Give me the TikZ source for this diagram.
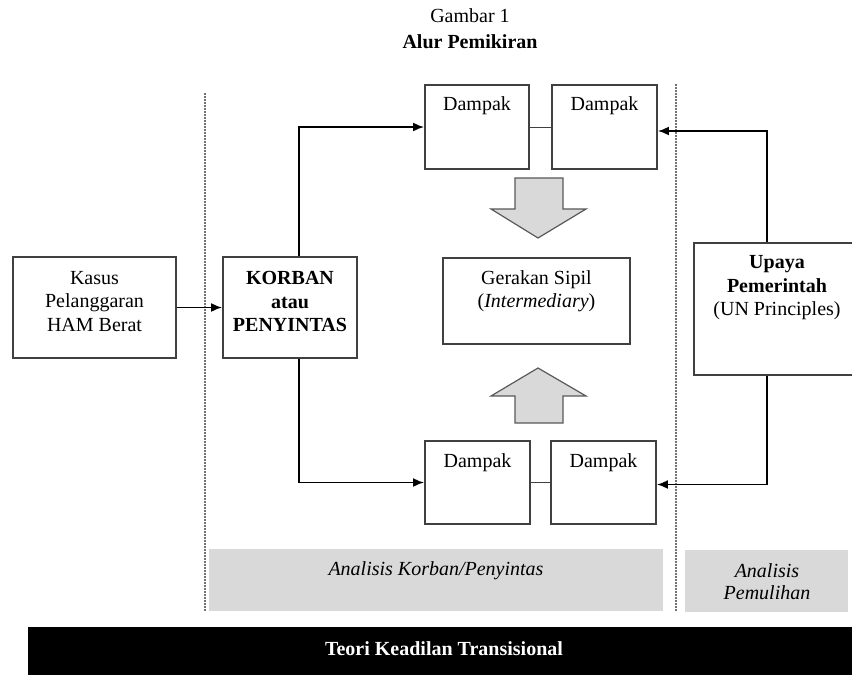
\documentclass[tikz,border=0pt]{standalone}
\usepackage{fontspec}
\setmainfont{Liberation Serif}
\usetikzlibrary{arrows.meta}
\begin{document}
\begin{tikzpicture}[x=1pt,y=-1pt,
  box/.style={draw=black!75,line width=1.8pt,fill=white,inner sep=0pt},
  txt/.style={align=center,font=\fontsize{20}{23.5}\selectfont,inner sep=0pt},
  conn/.style={draw=black,line width=1.9pt,-{Latex[length=11pt,width=9pt]}},
  link/.style={draw=black!75,line width=1pt},
  sep/.style={draw=black!55,line width=1.1pt,dash pattern=on 1.6pt off 1.4pt},
  band/.style={fill=black!15,draw=none,inner sep=0pt},
  blockarrow/.style={fill=black!15,draw=black!65,line width=1.2pt}]
\useasboundingbox (0,0) rectangle (852,675);
\clip (0,0) rectangle (852,675);
\fill[white] (0,0) rectangle (852,675);

% title
\node[txt] (t1) at (470,16) {Gambar 1};
\node[txt,font=\fontsize{20}{23.5}\selectfont\bfseries] (t2) at (470,42) {Alur Pemikiran};

% separators
\coordinate (s1a) at (205,93);
\coordinate (s1b) at (205,611);
\coordinate (s2a) at (676,84);
\coordinate (s2b) at (676,611);
\draw[sep] (s1a) -- (s1b);
\draw[sep] (s2a) -- (s2b);

% bands
\node[band,minimum width=454pt,minimum height=62pt] (b1) at (436,580) {};
\node[band,minimum width=163pt,minimum height=62pt] (b2) at (766.5,581) {};
\node[txt,font=\fontsize{20}{23.5}\selectfont\itshape] (b1t) at (436,571) {Analisis Korban/Penyintas};
\node[txt,font=\fontsize{20}{22}\selectfont\itshape] (b2t) at (767,582) {Analisis\\Pemulihan};

% black bar
\node[fill=black,minimum width=840pt,minimum height=60pt,inner sep=0pt] (bar) at (448,657) {};
\node[txt,text=white,font=\fontsize{20}{23.5}\selectfont\bfseries] (bart) at (444,649) {Teori Keadilan Transisional};

% boxes
\node[box,minimum width=163pt,minimum height=101pt] (kasus) at (94.5,307.5) {};
\node[box,minimum width=134pt,minimum height=101pt] (korban) at (290,307.5) {};
\node[box,minimum width=104pt,minimum height=84pt] (d1) at (477,127) {};
\node[box,minimum width=105pt,minimum height=84pt] (d2) at (604.5,127) {};
\node[box,minimum width=187pt,minimum height=86pt] (ger) at (536.5,301) {};
\node[box,minimum width=105pt,minimum height=83pt] (d3) at (477.5,482.5) {};
\node[box,minimum width=105pt,minimum height=83pt] (d4) at (603.5,482.5) {};
\node[box,minimum width=166pt,minimum height=132pt] (upaya) at (777,309) {};

% texts
\node[txt] at (94.5,301.5) {Kasus\\Pelanggaran\\HAM Berat};
\node[txt,font=\fontsize{20}{23.5}\selectfont\bfseries] at (290,301.5) {KORBAN\\atau\\PENYINTAS};
\node[txt] at (477,106) {Dampak};
\node[txt] at (604.5,106) {Dampak};
\node[txt] at (477.5,463) {Dampak};
\node[txt] at (603.5,463) {Dampak};
\node[txt] at (536.5,291) {Gerakan Sipil\\(\textit{Intermediary})};
\node[txt] at (777,288) {\textbf{Upaya}\\\textbf{Pemerintah}\\(UN Principles)};

% block arrows
\draw[blockarrow] (515,178) -- (563,178) -- (563,209) -- (586,209) -- (538,238) -- (491,209) -- (515,209) -- cycle;
\draw[blockarrow] (538,368) -- (586,396) -- (563,396) -- (563,423) -- (515,423) -- (515,396) -- (491,396) -- cycle;

% links
\draw[link] (d1.east) -- (d2.west);
\draw[link] (d3.east) -- (d4.west);

% connectors
\draw[conn] (kasus.east) -- (korban.west);
\draw[conn] ([xshift=9pt]korban.north) |- (d1.west);
\draw[conn] ([xshift=9pt]korban.south) |- (d3.west);
\draw[conn] ([xshift=-10pt]upaya.north) |- ([yshift=-4pt]d2.east);
\draw[conn] ([xshift=-10pt]upaya.south) |- ([yshift=-2pt]d4.east);
\end{tikzpicture}
\end{document}
